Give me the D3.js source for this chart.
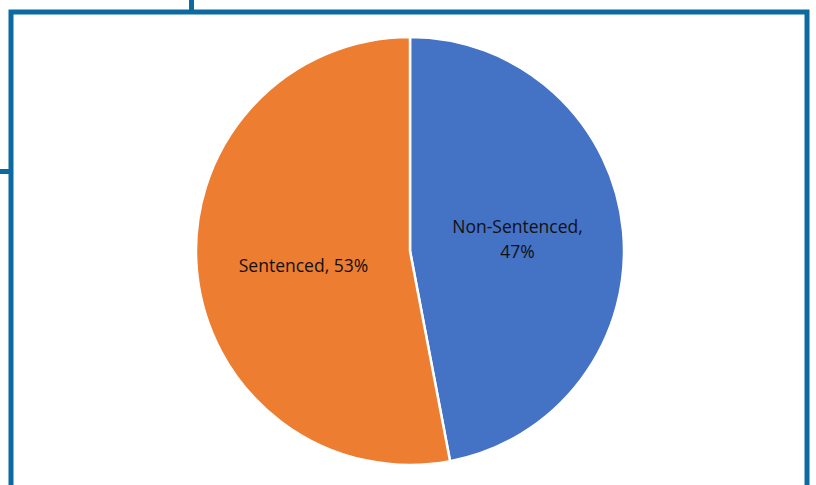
<!DOCTYPE html>
<html>
<head>
<meta charset="utf-8">
<script src="https://cdn.jsdelivr.net/npm/d3@7"></script>
<style>
  body { margin: 0; background: #fff; }
  svg { display: block; }
</style>
</head>
<body>
<svg width="816" height="485"></svg>
<script>
const categories = ['Non-Sentenced', 'Sentenced'];
const values = [47, 53];
const colors = ['#4472C4', '#ED7D31'];

const width = 816, height = 485;
const svg = d3.select('svg');
const frame = '#0B6A9F';

// frame lines of the surrounding page
svg.append('rect')
  .attr('x', 11).attr('y', 12)
  .attr('width', 796).attr('height', 500)
  .attr('fill', 'none')
  .attr('stroke', frame)
  .attr('stroke-width', 5);
svg.append('line')
  .attr('x1', 191.5).attr('x2', 191.5)
  .attr('y1', 0).attr('y2', 10)
  .attr('stroke', frame).attr('stroke-width', 5);
svg.append('line')
  .attr('x1', 0).attr('x2', 9)
  .attr('y1', 171.5).attr('y2', 171.5)
  .attr('stroke', frame).attr('stroke-width', 5);

const cx = 410, cy = 251, r = 214;
const pie = d3.pie().sort(null).value(d => d.value);
const arc = d3.arc().innerRadius(0).outerRadius(r);
const data = categories.map((c, i) => ({ name: c, value: values[i], color: colors[i] }));

const g = svg.append('g').attr('transform', `translate(${cx},${cy})`);
const arcs = pie(data);

g.selectAll('path')
  .data(arcs)
  .enter()
  .append('path')
  .attr('d', arc)
  .attr('fill', d => d.data.color)
  .attr('stroke', '#fff')
  .attr('stroke-width', 2.5);

const labelArc = d3.arc().innerRadius(r * 0.5).outerRadius(r * 0.5);
const total = d3.sum(values);

arcs.forEach((d, i) => {
  const pct = Math.round(d.data.value / total * 100) + '%';
  const [x, y] = labelArc.centroid(d);
  const t = g.append('text')
    .attr('text-anchor', 'middle')
    .attr('font-family', 'Open Sans, sans-serif')
    .attr('font-size', 17.5)
    .attr('fill', '#111');
  if (i === 0) {
    t.attr('x', x).attr('y', y - 8);
    t.append('tspan').attr('x', x + 1).attr('dy', 0).text(d.data.name + ',');
    t.append('tspan').attr('x', x + 1).attr('dy', 25).text(pct);
  } else {
    t.attr('x', x).attr('y', y + 11).text(d.data.name + ', ' + pct);
  }
});
</script>
</body>
</html>
